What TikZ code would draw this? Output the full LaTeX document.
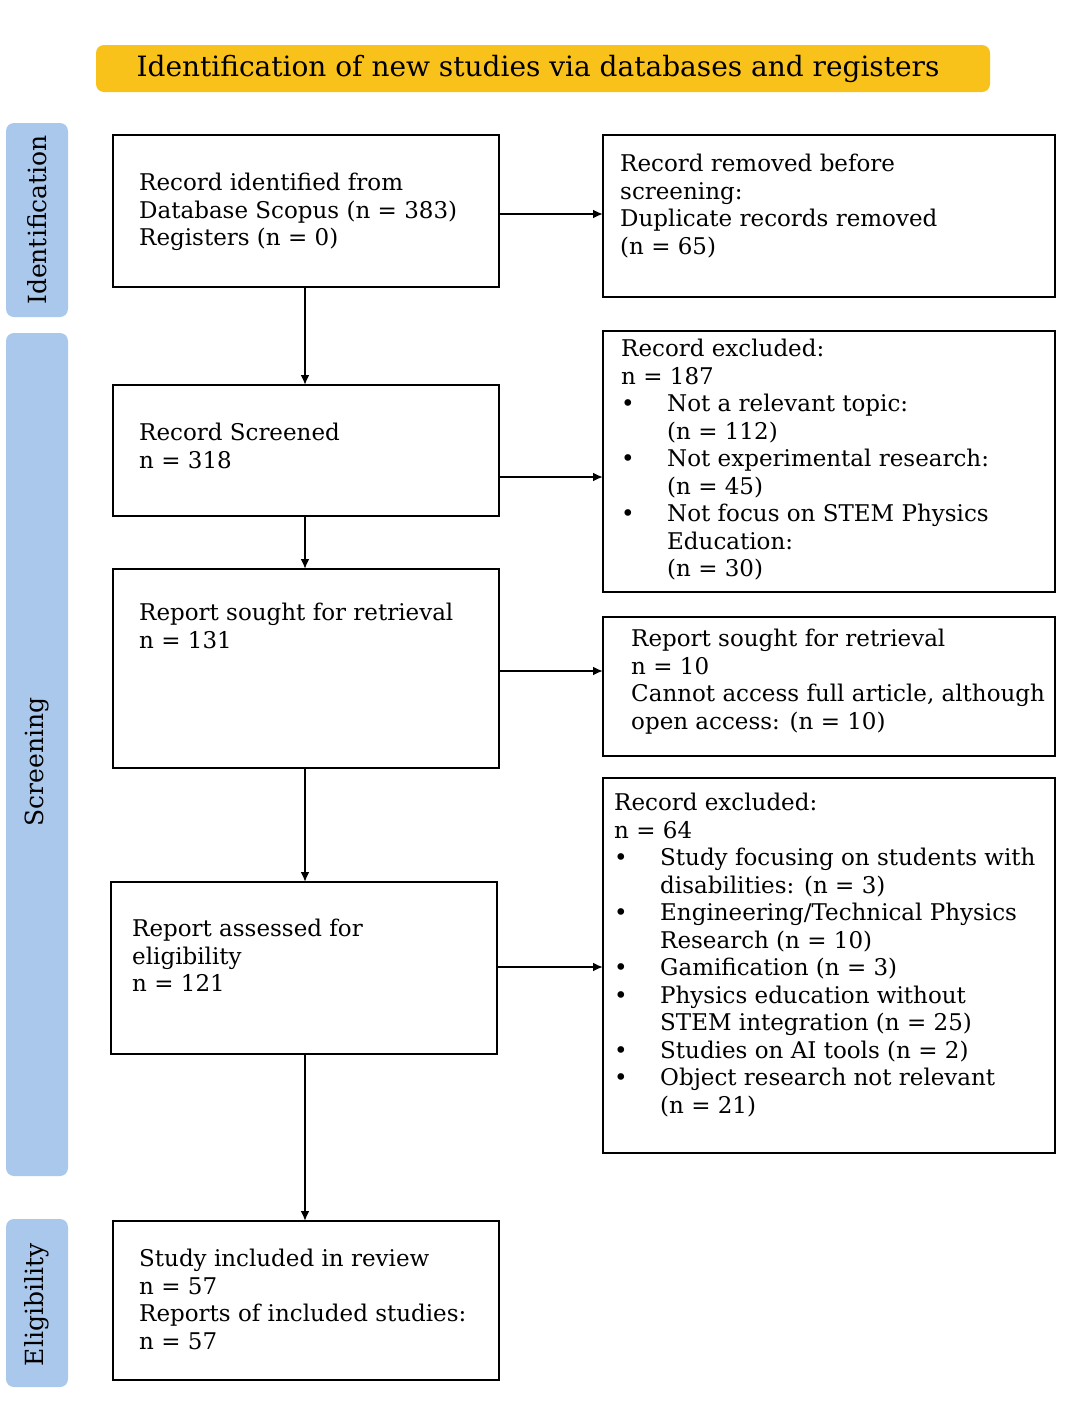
\documentclass[tikz,border=0pt]{standalone}
\usepackage{fontspec}
\setmainfont{DejaVu Serif}
\usetikzlibrary{arrows.meta}
\definecolor{ban}{HTML}{F9C21A}
\definecolor{side}{HTML}{A9C8EC}
\newcommand{\bl}{\makebox[46pt][l]{•}}
\newcommand{\ind}{\hspace*{46pt}}
\begin{document}
\begin{tikzpicture}[x=1pt,y=-1pt,
 box/.style={draw,line width=2.5pt},
 txt/.style={anchor=north west,align=left,inner sep=0pt,font=\fontsize{23}{27.5}\selectfont},
 sidebar/.style={fill=side,rounded corners=8pt},
 lab/.style={rotate=90,font=\fontsize{25}{28}\selectfont},
 arr/.style={line width=2.5pt,-{Latex[length=10pt,width=9pt]}}]
\useasboundingbox (0,0) rectangle (1073,1428);
\fill[ban,rounded corners=8pt] (96,45) rectangle (990,92);
\node[font=\fontsize{28}{30}\selectfont] (ban) at (538,69) {Identification of new studies via databases and registers};
\fill[sidebar] (6,123) rectangle (68,317);
\fill[sidebar] (6,333) rectangle (68,1176);
\fill[sidebar] (6,1219) rectangle (68,1387);
\node[lab] (l1) at (37,220) {Identification};
\node[lab] (l2) at (37,762) {Screening};
\node[lab] (l3) at (37,1305) {Eligibility};
% left boxes
\draw[box] (113,135) rectangle (499,287); \coordinate (b1b) at (305,287); \coordinate (b1r) at (499,214);
\draw[box] (113,385) rectangle (499,516); \coordinate (b2t) at (305,385); \coordinate (b2b) at (305,516); \coordinate (b2r) at (499,477);
\draw[box] (113,569) rectangle (499,768); \coordinate (b3t) at (305,569); \coordinate (b3b) at (305,768); \coordinate (b3r) at (499,671);
\draw[box] (111,882) rectangle (497,1054); \coordinate (b4t) at (305,882); \coordinate (b4b) at (305,1054); \coordinate (b4r) at (497,967);
\draw[box] (113,1221) rectangle (499,1380); \coordinate (b5t) at (305,1221);
% right boxes
\draw[box] (603,135) rectangle (1055,297); \coordinate (r1l) at (603,214);
\draw[box] (603,331) rectangle (1055,592); \coordinate (r2l) at (603,477);
\draw[box] (603,617) rectangle (1055,756); \coordinate (r3l) at (603,671);
\draw[box] (603,778) rectangle (1055,1153); \coordinate (r4l) at (603,967);
% arrows
\draw[arr] (b1b) -- (b2t);
\draw[arr] (b2b) -- (b3t);
\draw[arr] (b3b) -- (b4t);
\draw[arr] (b4b) -- (b5t);
\draw[arr] (b1r) -- (r1l);
\draw[arr] (b2r) -- (r2l);
\draw[arr] (b3r) -- (r3l);
\draw[arr] (b4r) -- (r4l);
% texts
\node[txt] (t1) at (139,173) {Record identified from\\Database Scopus (n = 383)\\Registers (n = 0)};
\node[txt] (t2) at (139,423) {Record Screened\\n = 318};
\node[txt] (t3) at (139,603) {Report sought for retrieval\\n = 131};
\node[txt] (t4) at (132,919) {Report assessed for\\eligibility\\n = 121};
\node[txt] (t5) at (139,1249) {Study included in review\\n = 57\\Reports of included studies:\\n = 57};
\node[txt] (s1) at (620,154) {Record removed before\\screening:\\Duplicate records removed\\(n = 65)};
\node[txt] (s2) at (621,339) {Record excluded:\\n = 187\\\bl Not a relevant topic:\\\ind(n = 112)\\\bl Not experimental research:\\\ind(n = 45)\\\bl Not focus on STEM Physics\\\ind Education:\\\ind(n = 30)};
\node[txt] (s3) at (631,629) {Report sought for retrieval\\n = 10\\Cannot access full article, although\\open access: (n = 10)};
\node[txt] (s4) at (614,793) {Record excluded:\\n = 64\\\bl Study focusing on students with\\\ind disabilities: (n = 3)\\\bl Engineering/Technical Physics\\\ind Research (n = 10)\\\bl Gamification (n = 3)\\\bl Physics education without\\\ind STEM integration (n = 25)\\\bl Studies on AI tools (n = 2)\\\bl Object research not relevant\\\ind(n = 21)};
\end{tikzpicture}
\end{document}
